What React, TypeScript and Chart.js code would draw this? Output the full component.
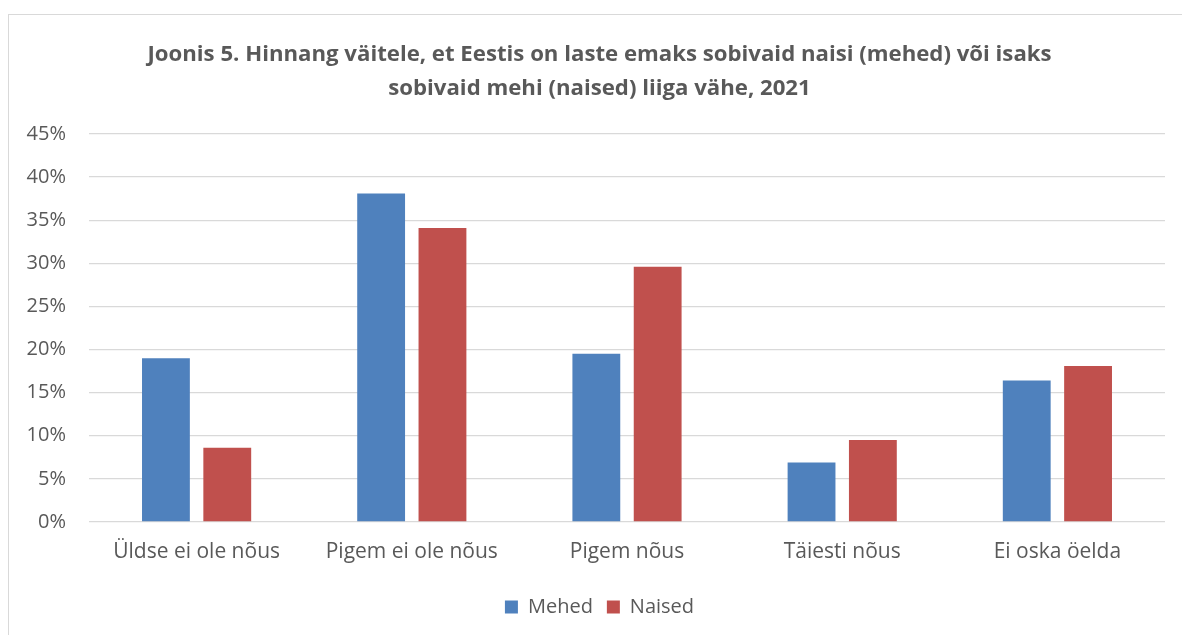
import React, { useEffect, useRef } from "react";
import { Chart, registerables } from "chart.js";

Chart.register(...registerables);

const categories = ["Üldse ei ole nõus", "Pigem ei ole nõus", "Pigem nõus", "Täiesti nõus", "Ei oska öelda"];
const mehed = [19.0, 38.1, 19.5, 6.9, 16.4];
const naised = [8.6, 34.1, 29.6, 9.5, 18.1];
const titleLines = [
  "Joonis 5. Hinnang väitele, et Eestis on laste emaks sobivaid naisi (mehed) või isaks",
  "sobivaid mehi (naised) liiga vähe, 2021",
];

const FONT = "'Open Sans', 'Liberation Sans', sans-serif";
const GREY = "#595959";

export default function App() {
  const ref = useRef<HTMLCanvasElement | null>(null);
  useEffect(() => {
    document.body.style.overflow = "hidden";
    const chart = new Chart(ref.current!, {
      type: "bar",
      data: {
        labels: categories,
        datasets: [
          { label: "Mehed", data: mehed, backgroundColor: "#4F81BD", categoryPercentage: 0.57, barPercentage: 0.78 },
          { label: "Naised", data: naised, backgroundColor: "#C0504D", categoryPercentage: 0.57, barPercentage: 0.78 },
        ],
      },
      options: {
        animation: false,
        responsive: false,
        layout: { padding: { left: 0, right: 0, top: 0, bottom: 8 } },
        plugins: {
          tooltip: { enabled: false },
          title: {
            display: true,
            text: titleLines,
            color: GREY,
            font: { family: FONT, size: 22.2, weight: "bold", lineHeight: 34 / 22.2 },
            padding: { top: 23, bottom: 28 },
          },
          legend: {
            position: "bottom",
            labels: {
              color: GREY,
              font: { family: FONT, size: 20 },
              boxWidth: 13,
              boxHeight: 13,
              padding: 14,
            },
          },
        },
        scales: {
          x: {
            afterFit: (s: any) => { s.height = 61; },
            grid: { display: false, drawTicks: false },
            border: { display: false },
            ticks: { color: GREY, font: { family: FONT, size: 21 }, padding: 17 },
          },
          y: {
            min: 0,
            max: 45,
            afterFit: (s: any) => { s.width = 80; },
            grid: { color: "#d9d9d9", lineWidth: 1.3, drawTicks: false },
            border: { display: false },
            ticks: {
              stepSize: 5,
              color: GREY,
              font: { family: FONT, size: 20 },
              padding: 23,
              callback: (v: any) => v + "%",
            },
          },
          yRight: {
            position: "right",
            display: true,
            min: 0,
            max: 45,
            afterFit: (s: any) => { s.width = 25; },
            grid: { display: false, drawTicks: false },
            border: { display: false },
            ticks: { display: false },
          },
        },
      },
    });
    return () => chart.destroy();
  }, []);
  return (
    <div style={{ marginTop: 6, width: 1181, height: 620, borderLeft: "1px solid #d9d9d9", borderTop: "1px solid #d9d9d9", background: "#fff" }}>
      <canvas ref={ref} width={1181} height={620} style={{ display: "block" }} />
    </div>
  );
}
